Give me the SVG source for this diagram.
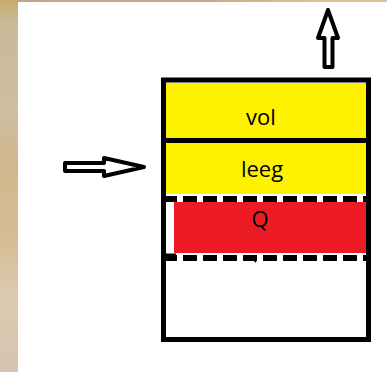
<svg xmlns="http://www.w3.org/2000/svg" width="387" height="372" viewBox="0 0 387 372">
  <defs>
    <linearGradient id="bgL" x1="0" y1="0" x2="0" y2="1">
      <stop offset="0" stop-color="#c4ad6c"/>
      <stop offset="0.06" stop-color="#c9bb98"/>
      <stop offset="0.3" stop-color="#cdbf9f"/>
      <stop offset="0.45" stop-color="#d2b68e"/>
      <stop offset="0.65" stop-color="#d6bd95"/>
      <stop offset="0.8" stop-color="#dccab0"/>
      <stop offset="1" stop-color="#d6c2b2"/>
    </linearGradient>
    <linearGradient id="bgT" x1="0" y1="0" x2="1" y2="0">
      <stop offset="0" stop-color="#bca880"/>
      <stop offset="0.5" stop-color="#c2ab88"/>
      <stop offset="0.8" stop-color="#e2c08c"/>
      <stop offset="1" stop-color="#e6bc9a"/>
    </linearGradient>
    <style>
      .lbl { font-family: "Open Sans", "Noto Sans", "Liberation Sans", sans-serif; font-size: 22px; fill: #000; text-anchor: middle; }
      .arrow { fill: #fff; stroke: #000; stroke-width: 4; stroke-linejoin: round; }
      .dash { stroke: #000; stroke-width: 6; stroke-dasharray: 14 6; stroke-dashoffset: 3; }
    </style>
  </defs>

  <rect x="0" y="0" width="387" height="372" fill="#fff"/>
  <rect x="0" y="0" width="18" height="372" fill="url(#bgL)"/>
  <rect x="18" y="0" width="369" height="2" fill="url(#bgT)"/>

  <g id="vol">
    <rect x="166" y="83" width="200" height="55" fill="#fff200"/>
    <text class="lbl" x="261" y="125">vol</text>
  </g>
  <g id="leeg">
    <rect x="166" y="143" width="200" height="52" fill="#fff200"/>
    <text class="lbl" x="262" y="177">leeg</text>
  </g>
  <g id="Q">
    <rect x="174" y="202" width="193" height="51" fill="#ed1c24"/>
    <rect x="166" y="194" width="201" height="8" fill="#fff"/>
    <line class="dash" x1="166" y1="199" x2="367" y2="199"/>
    <rect x="166" y="253" width="201" height="9" fill="#fff"/>
    <line class="dash" x1="166" y1="258" x2="367" y2="258"/>
    <line x1="164" y1="254.5" x2="176" y2="254.5" stroke="#000" stroke-width="2"/>
    <polygon points="245,257 257,257 256,263 252,259" fill="#000"/>
    <text class="lbl" x="260" y="227">Q</text>
  </g>
  <g id="container">
    <rect x="163.5" y="80" width="205" height="259.5" fill="none" stroke="#000" stroke-width="5"/>
    <line x1="166" y1="140.5" x2="366" y2="140.5" stroke="#000" stroke-width="5"/>
  </g>

  <g id="connectors">
    <polygon class="arrow" points="65,163 104,163 104,158 144,167 104,176 104,171 65,171"/>
    <polygon class="arrow" points="324.5,67 324.5,38 318,38 328,10 338,38 332.5,38 332.5,67"/>
  </g>
</svg>
